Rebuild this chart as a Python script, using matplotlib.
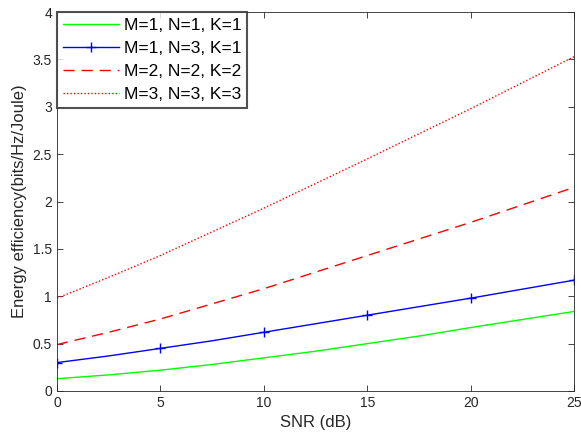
import numpy as np
import matplotlib
matplotlib.use('Agg')
import matplotlib.pyplot as plt

plt.rcParams['font.family'] = ['Liberation Sans', 'DejaVu Sans']

# SNR values (dB) and energy efficiency
snr = [0, 2.5, 5, 7.5, 10, 12.5, 15, 17.5, 20, 22.5, 25]
ee_111 = [0.13, 0.17, 0.22, 0.28, 0.35, 0.42, 0.50, 0.58, 0.67, 0.755, 0.84]
ee_131 = [0.30, 0.37, 0.45, 0.53, 0.62, 0.71, 0.80, 0.89, 0.98, 1.075, 1.17]
ee_222 = [0.49, 0.62, 0.76, 0.92, 1.08, 1.255, 1.43, 1.605, 1.78, 1.965, 2.15]
ee_333 = [0.98, 1.20, 1.43, 1.68, 1.93, 2.19, 2.45, 2.715, 2.98, 3.255, 3.53]
labels = ['M=1, N=1, K=1', 'M=1, N=3, K=1', 'M=2, N=2, K=2', 'M=3, N=3, K=3']
xticks = [0, 5, 10, 15, 20, 25]
yticks = [0, 0.5, 1, 1.5, 2, 2.5, 3, 3.5, 4]
ytick_labels = ['0', '0.5', '1', '1.5', '2', '2.5', '3', '3.5', '4']

fig = plt.figure(figsize=(5.81, 4.33), dpi=100)
ax = fig.add_axes([0.098, 0.097, 0.89, 0.875])

ax.plot(snr, ee_111, color='#00ff00', lw=1.0, label=labels[0])
ax.plot(snr, ee_131, color='blue', lw=1.0, marker='+', markersize=7,
        markevery=2, label=labels[1])
ax.plot(snr, ee_222, color='red', lw=1.0, dashes=(8, 5), label=labels[2])
ax.plot(snr, ee_333, color='red', lw=1.0, linestyle=(0, (1, 1.5)), label=labels[3])

ax.set_xlim(0, 25)
ax.set_ylim(0, 4)
ax.set_xticks(xticks)
ax.set_yticks(yticks)
ax.set_yticklabels(ytick_labels)
ax.tick_params(direction='in', top=True, right=True, labelsize=10,
               colors='#262626', length=4, width=0.6)
for s in ax.spines.values():
    s.set_color('#262626')
    s.set_linewidth(0.6)
ax.set_xlabel('SNR (dB)', fontsize=12, color='#262626')
ax.set_ylabel('Energy efficiency(bits/Hz/Joule)', fontsize=12, color='#262626')

leg = ax.legend(loc='upper left', fontsize=12.5, frameon=True, fancybox=False,
                borderaxespad=0, handlelength=3.2, borderpad=0.35,
                labelspacing=0.45, handletextpad=0.3)
leg.get_frame().set_edgecolor('#262626')
leg.get_frame().set_linewidth(1.5)

fig.savefig('out.png', dpi=100)
